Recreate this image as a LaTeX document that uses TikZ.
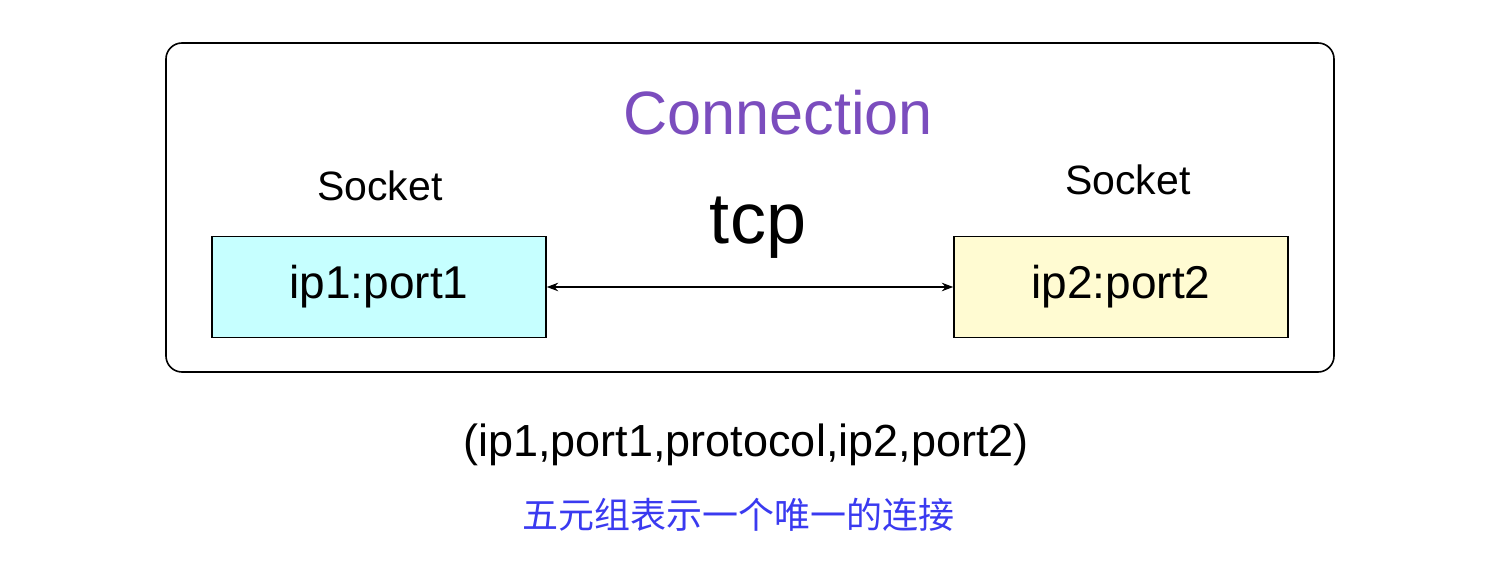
\documentclass[tikz,border=0pt]{standalone}
\usepackage{fontspec}
\setmainfont{Liberation Sans}
\newfontfamily\cjk{Noto Sans CJK SC}
\usetikzlibrary{positioning,arrows.meta}
\definecolor{connpurple}{HTML}{7B4DBE}
\definecolor{noteblue}{HTML}{3A3AF0}
\definecolor{sockcyan}{HTML}{C6FFFF}
\definecolor{sockyellow}{HTML}{FFFBD2}
\tikzset{>=Stealth,
  sock/.style={draw,thick,minimum width=167pt,minimum height=50.5pt,font=\fontsize{23}{27}\selectfont}}
\begin{document}
\begin{tikzpicture}[x=0.5pt,y=-0.5pt]
\useasboundingbox (0,0) rectangle (1510,582);
\draw[thick,rounded corners=8pt] (166,43) rectangle (1334,372);
\node[text=connpurple,font=\fontsize{30.6}{34}\selectfont] (conn) at (778,113) {Connection};
\node[sock,fill=sockcyan] (s1) at (379,287) {ip1:port1};
\node[sock,fill=sockyellow] (s2) at (1121,287) {ip2:port2};
\node[font=\fontsize{20.5}{24}\selectfont] (l1) at (380,186) {Socket};
\node[font=\fontsize{20.5}{24}\selectfont] (l2) at (1128,180) {Socket};
\node[font=\fontsize{36}{40}\selectfont] (tcp) at (758,228) {tcp};
\draw[<->,semithick] (s1) -- (s2);
\node[font=\fontsize{22.5}{27}\selectfont] (tuple) at (746,445) {(ip1,port1,protocol,ip2,port2)};
\node[text=noteblue,font=\cjk\fontsize{18}{22}\selectfont] (note) at (738,515) {五元组表示一个唯一的连接};
\end{tikzpicture}
\end{document}
